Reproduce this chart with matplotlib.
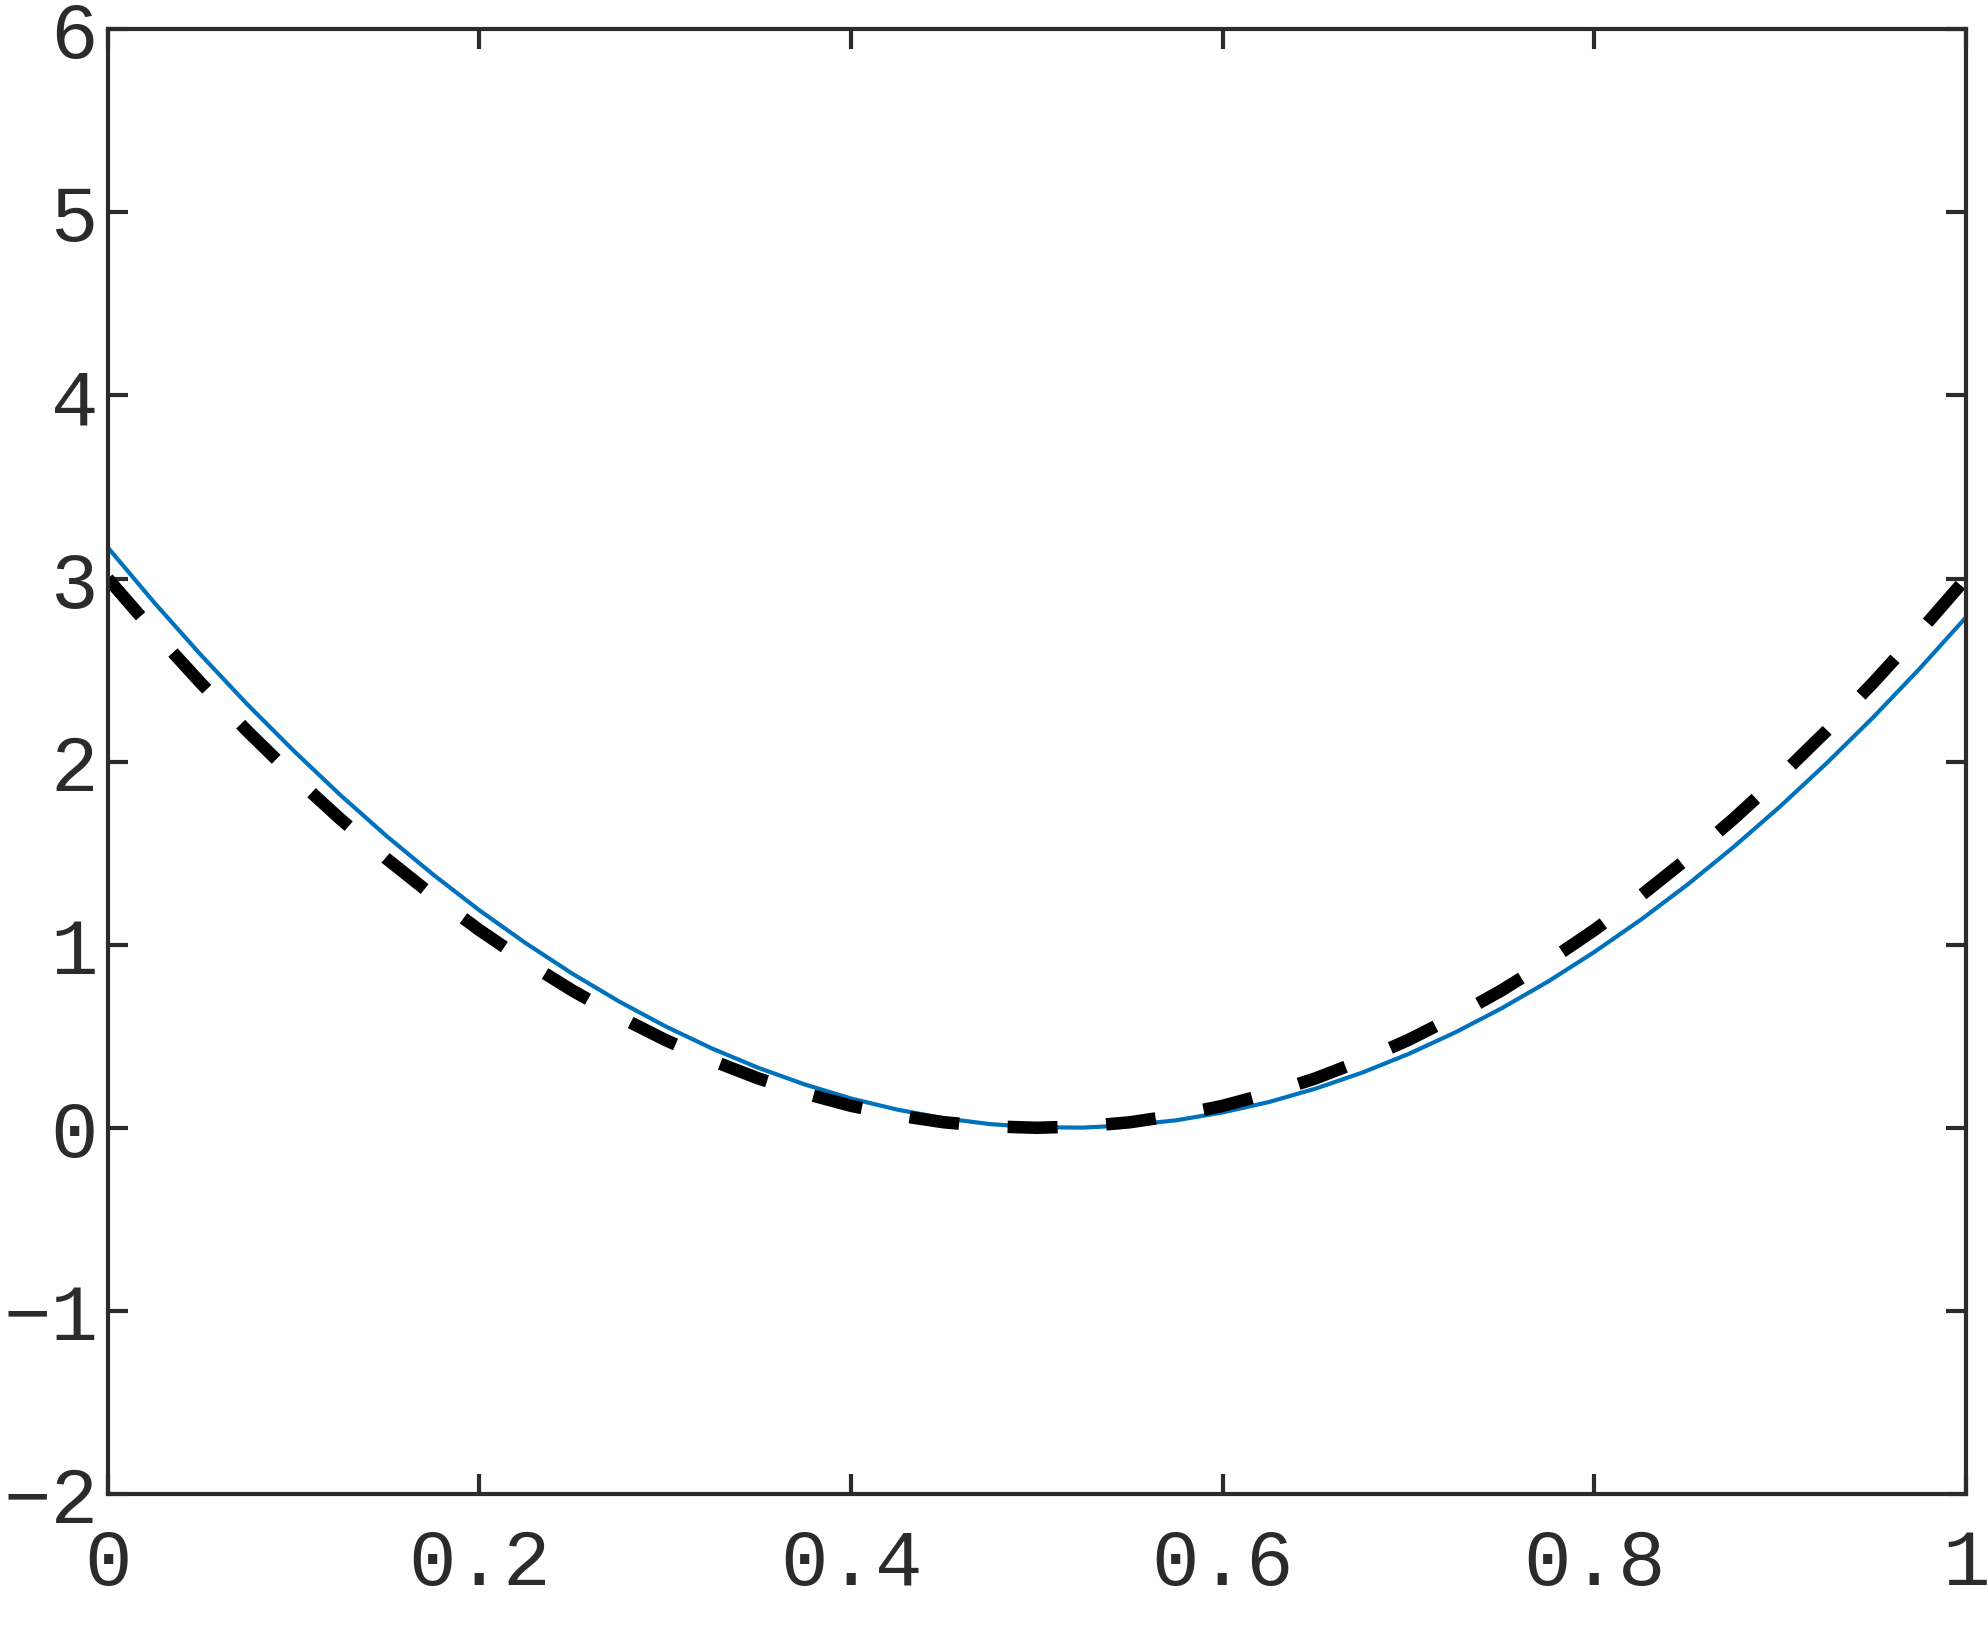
import numpy as np
import matplotlib
matplotlib.use("Agg")
import matplotlib.pyplot as plt

# values
x_vals = [0.000, 0.025, 0.050, 0.075, 0.100, 0.125, 0.150, 0.175, 0.200, 0.225,
          0.250, 0.275, 0.300, 0.325, 0.350, 0.375, 0.400, 0.425, 0.450, 0.475,
          0.500, 0.525, 0.550, 0.575, 0.600, 0.625, 0.650, 0.675, 0.700, 0.725,
          0.750, 0.775, 0.800, 0.825, 0.850, 0.875, 0.900, 0.925, 0.950, 0.975,
          1.000]
approx_vals = [3.170, 2.869, 2.584, 2.314, 2.060, 1.819, 1.594, 1.384, 1.188, 1.008,
               0.842, 0.691, 0.555, 0.434, 0.328, 0.237, 0.160, 0.099, 0.052, 0.020,
               0.003, 0.001, 0.014, 0.041, 0.084, 0.141, 0.214, 0.301, 0.403, 0.520,
               0.652, 0.798, 0.960, 1.136, 1.327, 1.534, 1.755, 1.991, 2.241, 2.507,
               2.788]
exact_vals = [3.000, 2.708, 2.430, 2.168, 1.920, 1.688, 1.470, 1.268, 1.080, 0.908,
              0.750, 0.608, 0.480, 0.368, 0.270, 0.188, 0.120, 0.068, 0.030, 0.008,
              0.000, 0.008, 0.030, 0.068, 0.120, 0.188, 0.270, 0.368, 0.480, 0.608,
              0.750, 0.908, 1.080, 1.268, 1.470, 1.688, 1.920, 2.168, 2.430, 2.708,
              3.000]
x_ticks = [0, 0.2, 0.4, 0.6, 0.8, 1.0]
x_tick_labels = ["0", "0.2", "0.4", "0.6", "0.8", "1"]
y_ticks = [-2, -1, 0, 1, 2, 3, 4, 5, 6]

ink = "#2b2b2b"
plt.rcParams["font.family"] = ["Liberation Mono", "DejaVu Sans"]
plt.rcParams["lines.scale_dashes"] = False

fig = plt.figure(figsize=(19.88, 16.26), dpi=100)
ax = fig.add_axes([0.0542, 0.0812, 0.9347, 0.9008])

ax.plot(x_vals, approx_vals, color="#0072BD", linewidth=3.0)
ax.plot(x_vals, exact_vals, color="black", linewidth=9, dashes=(36, 35),
        dash_capstyle="butt")

ax.set_xlim(0, 1)
ax.set_ylim(-2, 6)
ax.set_xticks(x_ticks)
ax.set_xticklabels(x_tick_labels)
ax.set_yticks(y_ticks)
ax.set_yticklabels([str(v).replace("-", "\u2212") for v in y_ticks])

for s in ax.spines.values():
    s.set_color(ink)
    s.set_linewidth(3)
ax.tick_params(axis="both", which="both", direction="in", length=14.5, width=3,
               colors=ink, labelsize=57, top=True, right=True)
ax.tick_params(axis="x", pad=24)
ax.tick_params(axis="y", pad=7)

fig.savefig("out.png", dpi=100)
plt.close(fig)
